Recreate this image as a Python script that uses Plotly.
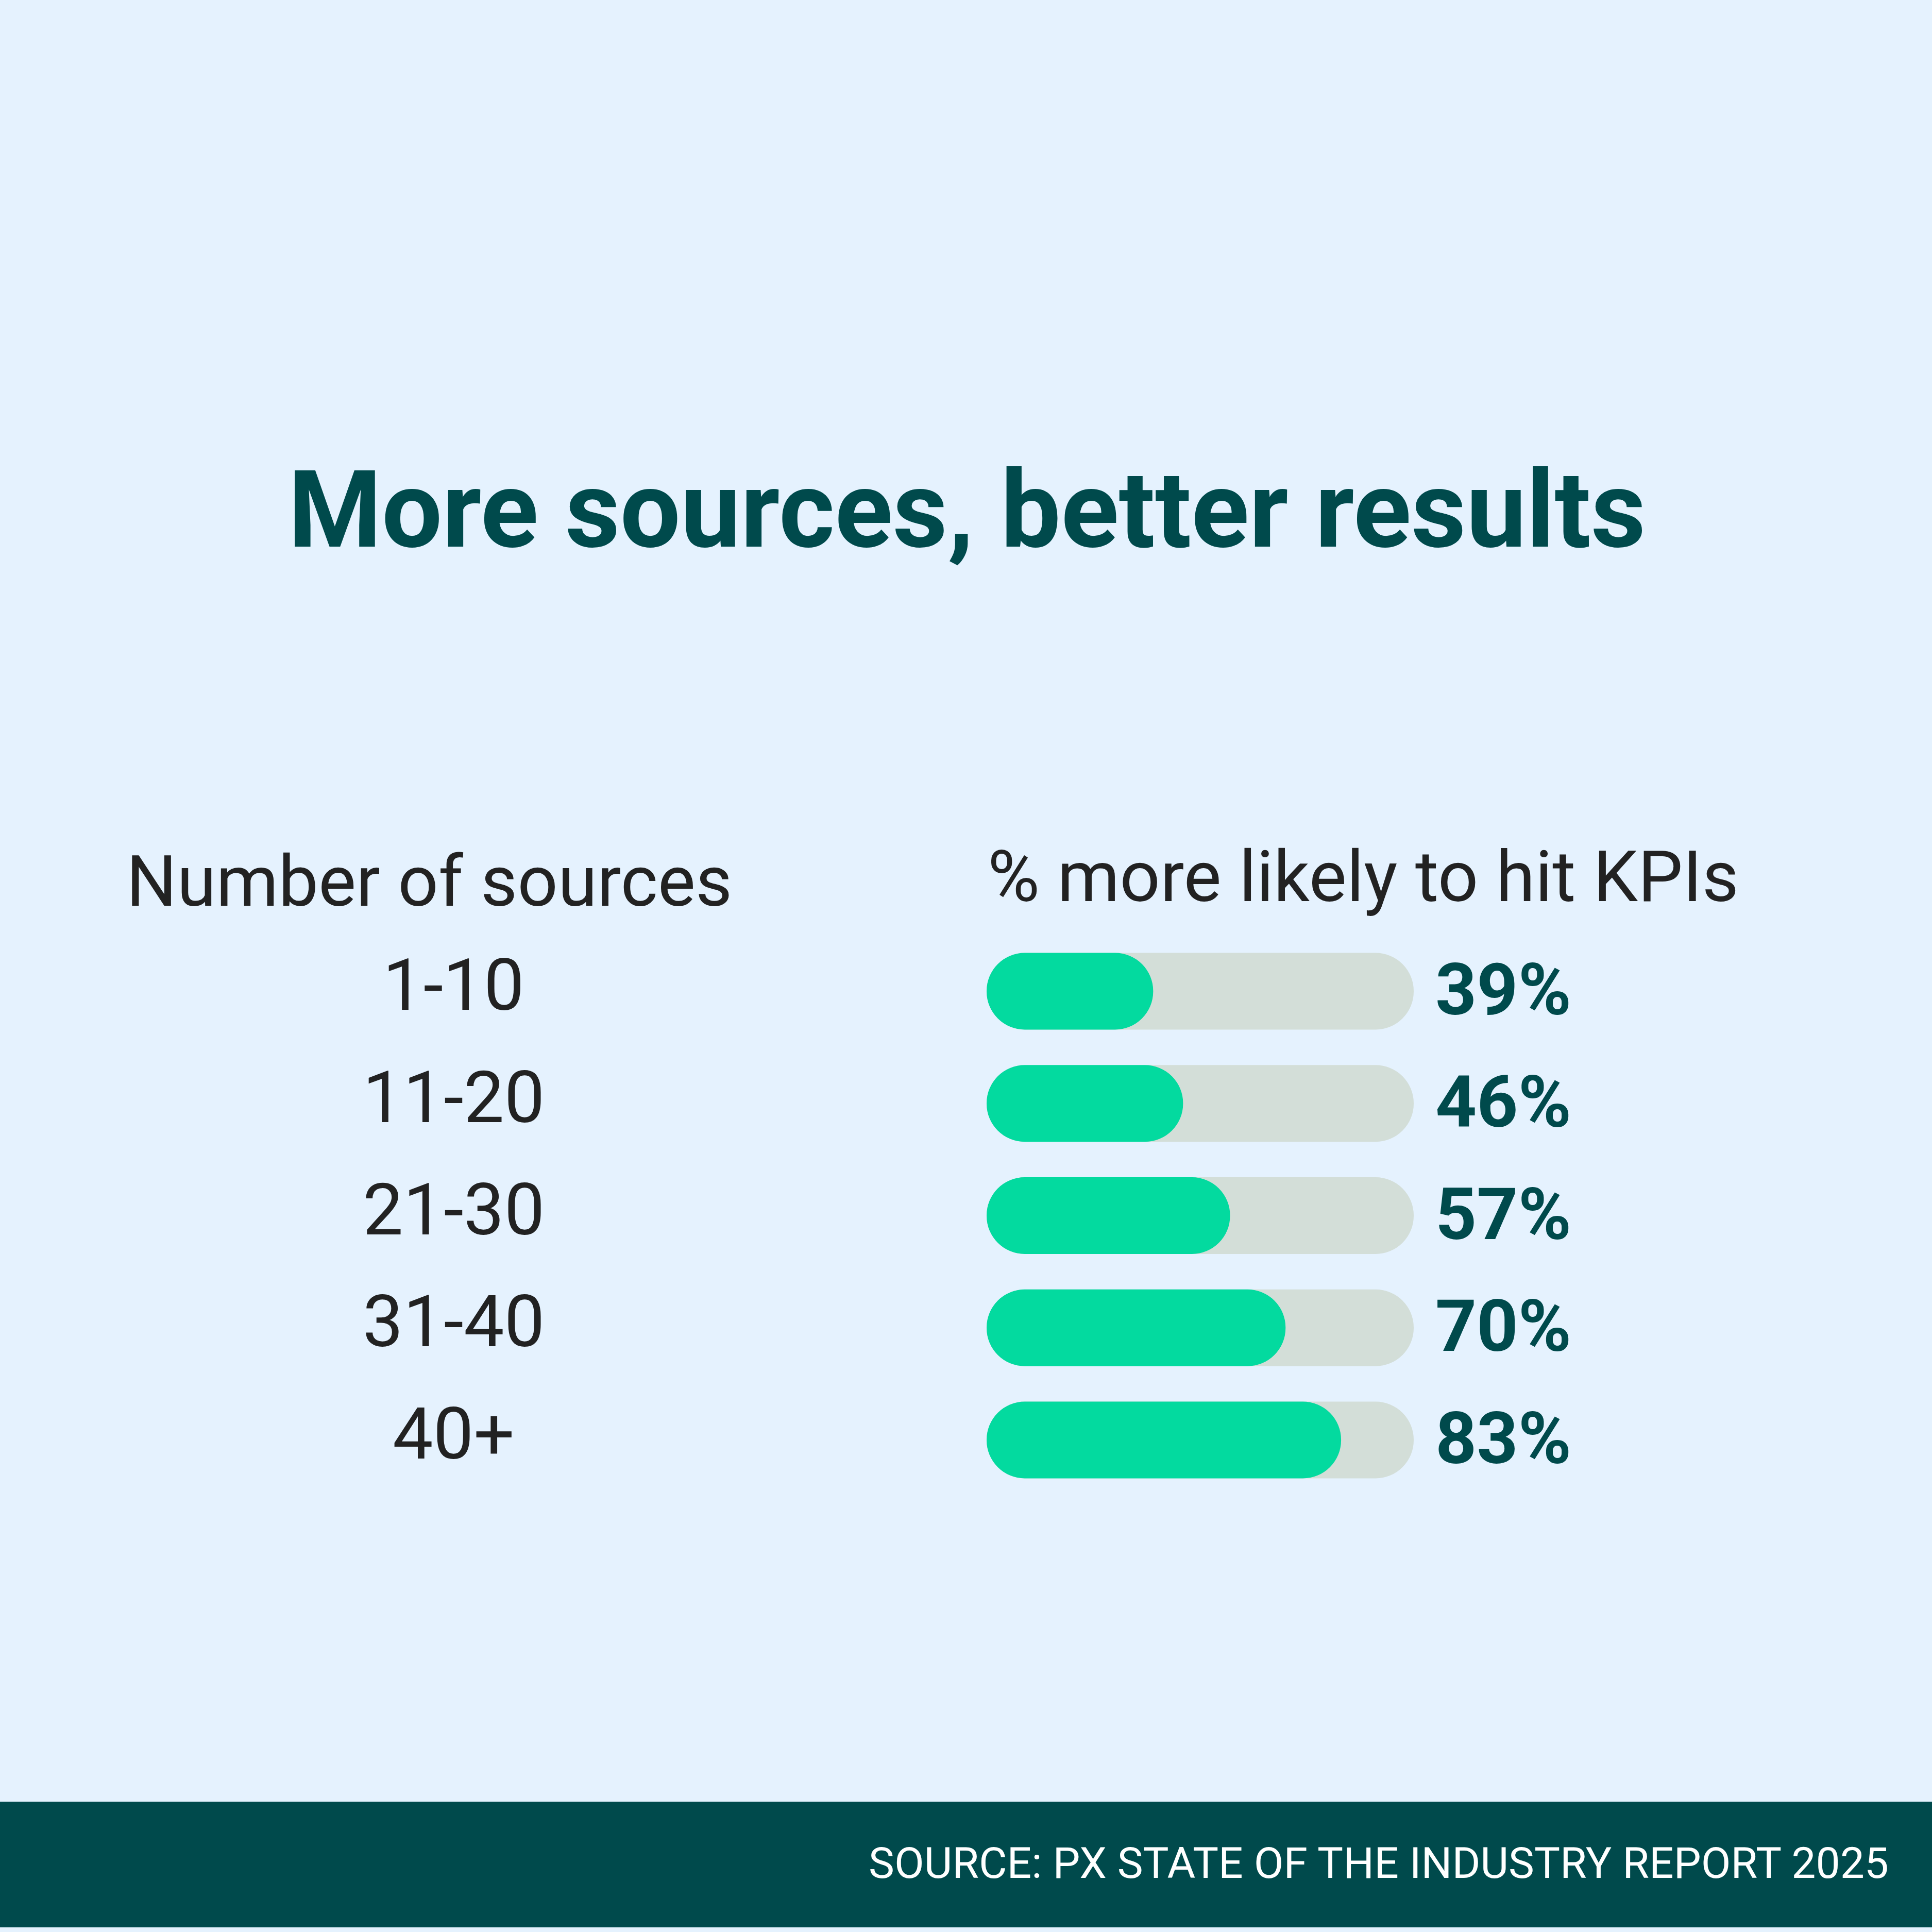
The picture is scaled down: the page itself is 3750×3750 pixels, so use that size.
import plotly.graph_objects as go

# data
sources = ["1-10", "11-20", "21-30", "31-40", "40+"]
pct_more_likely = [39, 46, 57, 70, 83]
track_max = [100, 100, 100, 100, 100]

title_text = "More sources, better results"
left_header = "Number of sources"
right_header = "% more likely to hit KPIs"
source_text = "SOURCE: PX STATE OF THE INDUSTRY REPORT 2025"

BG = "#E5F2FE"
GREEN = "#03DA9F"
TRACK = "#D3DED8"
TEAL = "#004A4C"
INK = "#222222"
FONT = "Roboto"


def pill(fig, values, color):
    # explicit base -> plotly rounds both ends of the bar
    fig.add_trace(go.Bar(
        y=sources, x=values, base=[0] * len(values),
        orientation="h",
        marker=dict(color=color, cornerradius="50%", line=dict(width=0)),
        hoverinfo="skip", showlegend=False,
    ))


fig = go.Figure()
pill(fig, track_max, TRACK)
pill(fig, pct_more_likely, GREEN)

annotations = []

# category labels, centred in the left column
for s in sources:
    annotations.append(dict(
        x=0.2347, xref="paper", y=s, yref="y", yshift=12,
        text=s, showarrow=False, xanchor="center", yanchor="middle",
        font=dict(family=FONT, size=140, color=INK),
    ))

# value labels to the right of the track
for s, v in zip(sources, pct_more_likely):
    annotations.append(dict(
        x=100, xref="x", y=s, yref="y", xshift=40, yshift=3,
        text=f"<b>{v}%</b>", showarrow=False, xanchor="left", yanchor="middle",
        font=dict(family=FONT, size=140, color=TEAL),
    ))

annotations += [
    dict(x=0.5005, y=0.736, xref="paper", yref="paper", text=f"<b>{title_text}</b>",
         showarrow=False, xanchor="center", yanchor="middle",
         font=dict(family=FONT, size=208, color=TEAL)),
    dict(x=0.2221, y=0.5437, xref="paper", yref="paper", text=left_header,
         showarrow=False, xanchor="center", yanchor="middle",
         font=dict(family=FONT, size=138, color=INK)),
    dict(x=0.5107, y=0.5461, xref="paper", yref="paper", text=right_header,
         showarrow=False, xanchor="left", yanchor="middle",
         font=dict(family=FONT, size=138, color=INK)),
    dict(x=0.9781, y=0.0355, xref="paper", yref="paper", text=source_text,
         showarrow=False, xanchor="right", yanchor="middle",
         font=dict(family=FONT, size=84, color="white")),
]

fig.update_layout(
    width=3750, height=3750,
    margin=dict(l=0, r=0, t=0, b=0),
    paper_bgcolor=BG, plot_bgcolor=BG,
    barmode="overlay", bargap=0.316,
    annotations=annotations,
    shapes=[dict(type="rect", xref="paper", yref="paper", x0=0, x1=1,
                 y0=0.0024, y1=0.0675, fillcolor=TEAL, line=dict(width=0), layer="below")],
    xaxis=dict(domain=[0.51067, 0.73173], range=[0, 100], visible=False, fixedrange=True),
    yaxis=dict(domain=[0.22563, 0.51597], type="category", categoryorder="array",
               categoryarray=sources, range=[4.5, -0.5], visible=False, fixedrange=True),
)

# no page margin so the figure fills the window edge to edge
fig.write_html("out.html", config={"displayModeBar": False},
               post_script="document.body.style.margin='0px';")
